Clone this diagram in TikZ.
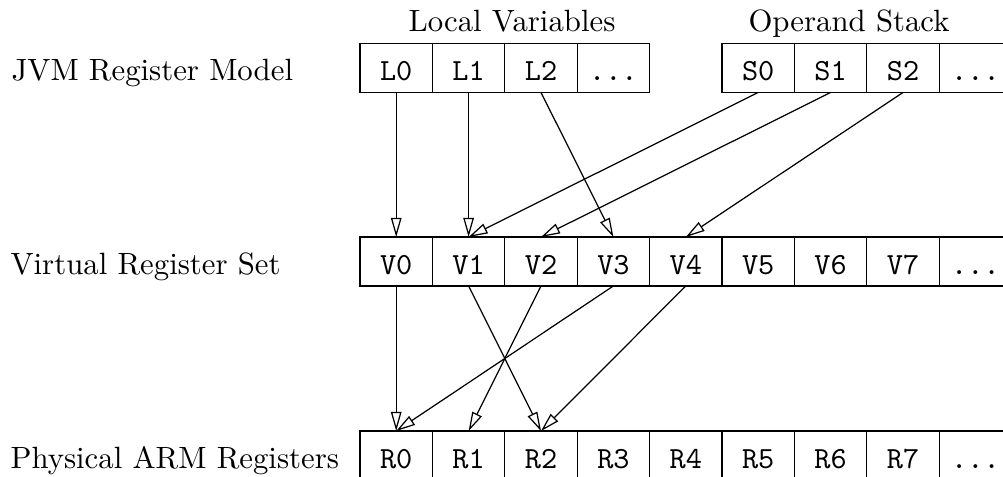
\documentclass[tikz,border=0pt]{standalone}
\usepackage{tikz}
\usetikzlibrary{positioning, arrows.meta}

\begin{document}
\begin{tikzpicture}[
    x=0.325pt, y=-0.325pt,
    cell/.style={draw, minimum width=23.53pt, minimum height=15.9pt,
                 text height=8.6pt, text depth=0.3pt,
                 inner sep=0pt, outer sep=0pt, font=\ttfamily},
    rowlabel/.style={anchor=base west, inner sep=0pt},
    grouplabel/.style={anchor=base, inner sep=0pt},
    arr/.style={-{Triangle[open, length=6.2pt, width=3.4pt]}, line width=0.4pt}
]
\useasboundingbox (0,0) rectangle (1003,477);

% row labels
\node[rowlabel] (jvm) at (11,80.5) {JVM Register Model};
\node[rowlabel] (virt) at (10,274.5) {Virtual Register Set};
\node[rowlabel] (phys) at (10,468.5) {Physical ARM Registers};

% local variables and operand stack
\node[grouplabel] (locals) at (512,32) {Local Variables};
\node[grouplabel] (stack) at (849,32) {Operand Stack};
\node[cell] (L0) at (396.2,68) {L0};
\node[cell, right=0pt of L0] (L1) {L1};
\node[cell, right=0pt of L1] (L2) {L2};
\node[cell, right=0pt of L2] (L3) {...};
\node[cell] (S0) at (758.2,68) {S0};
\node[cell, right=0pt of S0] (S1) {S1};
\node[cell, right=0pt of S1] (S2) {S2};
\node[cell, right=0pt of S2] (S3) {...};

% virtual and physical register rows
\node[cell] (V0) at (396.2,261.5) {V0};
\node[cell] (R0) at (396.2,455.5) {R0};
\foreach \i [count=\j from 0] in {1,...,7} {
  \node[cell, right=0pt of V\j] (V\i) {V\i};
  \node[cell, right=0pt of R\j] (R\i) {R\i};
}
\node[cell, right=0pt of V7] (V8) {...};
\node[cell, right=0pt of R7] (R8) {...};

% JVM -> virtual
\draw[arr] (L0.south) -- (V0.north);
\draw[arr] (L1.south) -- (V1.north);
\draw[arr] (L2.south) -- (V3.north);
\draw[arr] (S0.south) -- (V1.north);
\draw[arr] (S1.south) -- (V2.north);
\draw[arr] (S2.south) -- (V4.north);

% virtual -> physical
\draw[arr] (V0.south) -- (R0.north);
\draw[arr] (V1.south) -- (R2.north);
\draw[arr] (V2.south) -- (R1.north);
\draw[arr] (V3.south) -- (R0.north);
\draw[arr] (V4.south) -- (R2.north);
\end{tikzpicture}
\end{document}
